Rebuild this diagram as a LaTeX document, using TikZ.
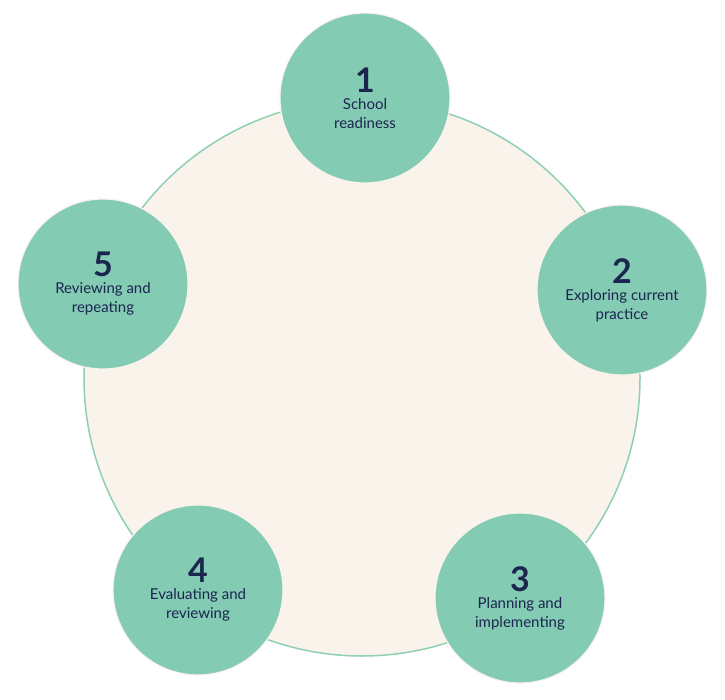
\documentclass[tikz,border=0pt]{standalone}
\usepackage{fontspec}
\setmainfont{Lato}
\definecolor{mint}{HTML}{83CBB2}
\definecolor{ring}{HTML}{8FD0B2}
\definecolor{cream}{HTML}{F9F3EC}
\definecolor{navy}{HTML}{1B2550}
\begin{document}
\begin{tikzpicture}[x=1pt,y=-1pt,
  stage/.style={circle,fill=mint,draw=cream,line width=1.2pt,minimum size=170pt,inner sep=0pt,align=center,text=navy,font=\fontsize{15}{19}\selectfont}]
\useasboundingbox (0,0) rectangle (725,700);
\node[circle,fill=cream,draw=ring,line width=1.5pt,minimum size=556pt] (big) at (362,378) {};
\newcommand{\stg}[4]{\node[stage] (#1) at (#2) {{\fontsize{34}{36}\selectfont\bfseries #3}\\[-2pt]#4};}
\stg{s1}{365,98}{1}{School\\readiness}
\stg{s2}{622,290}{2}{Exploring current\\practice}
\stg{s3}{520,598}{3}{Planning and\\implementing}
\stg{s4}{198,590}{4}{Evaluating and\\reviewing}
\stg{s5}{103,284}{5}{Reviewing and\\repeating}
\end{tikzpicture}
\end{document}
